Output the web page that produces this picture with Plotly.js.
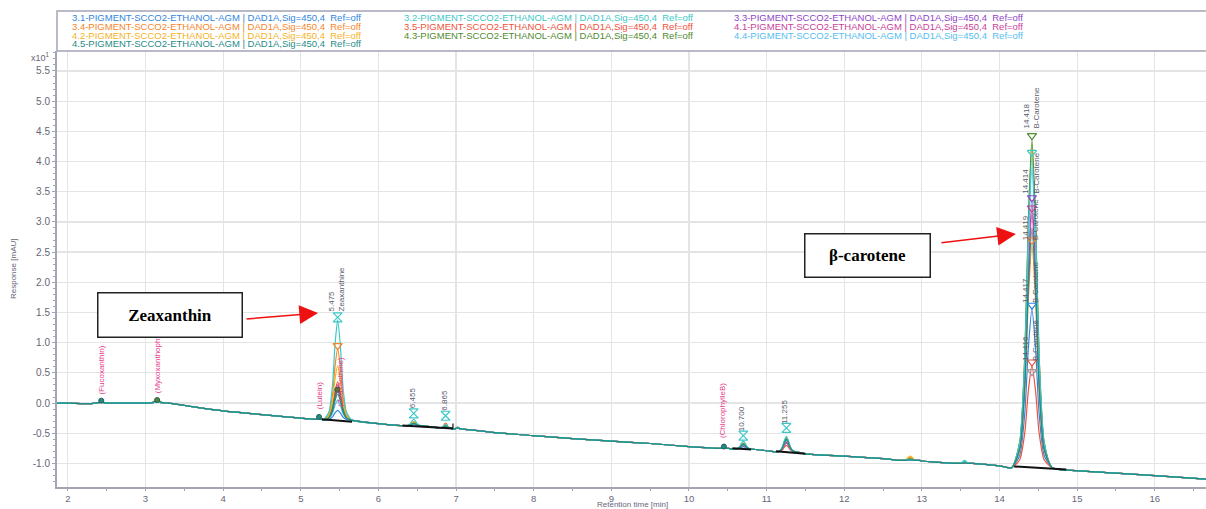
<!DOCTYPE html>
<html><head><meta charset="utf-8">
<script src="https://cdn.plot.ly/plotly-3.0.1.min.js"></script>
<style>html,body{margin:0;padding:0;background:#fff}</style>
</head><body><div id="chart" style="width:1206px;height:509px"></div>
<script>
// ---------- data ----------
const seriesNames = ['3.1','3.2','3.3','3.4','3.5','4.1','4.2','4.3','4.4','4.5'];
const seriesColors = ['#2e86de','#3cc8c8','#8e44c8','#f5862a','#f0503c','#c8409a','#f5b21e','#4e8a2e','#55bdf0','#1f8c86'];

// common drifting baseline (x10^1 mAU)
const baseTimes  = [1.86, 2.0, 2.3, 2.7, 3.0, 3.3, 3.6, 4.0, 4.5, 5.0, 5.5, 6.0, 6.5, 7.0, 7.5, 8.0, 8.5, 9.0, 9.5, 10.0, 10.5, 11.0, 11.5, 12.0, 12.5, 13.0, 13.5, 14.0, 14.5, 15.0, 15.5, 16.0, 16.66];
const baseValues = [0.0, 0.0, -0.01, 0.0, 0.0, -0.01, -0.06, -0.13, -0.19, -0.25, -0.29, -0.34, -0.38, -0.43, -0.49, -0.54, -0.59, -0.63, -0.67, -0.72, -0.75, -0.79, -0.84, -0.88, -0.92, -0.96, -1.00, -1.04, -1.08, -1.12, -1.16, -1.20, -1.26];

// peaks
const peakTimes      = [2.43, 3.15, 5.235, 5.475, 6.455, 6.865, 7.02, 10.45, 10.70, 11.255, 12.85, 13.55, 14.418];
const peakHalfWidths = [0.09, 0.15, 0.04, 0.19, 0.12, 0.08, 0.07, 0.06, 0.13, 0.14, 0.12, 0.10, 0.26];
const peakBaseValues = [0.0, 0.0, -0.27, -0.287, -0.376, -0.41, -0.43, -0.75, -0.765, -0.81, -0.95, -1.0, -1.07];
// peak profile read from the beta-carotene peak (offset as fraction of half base width, height fraction)
const profileOffsets   = [-1, -0.6, -0.35, -0.18, 0, 0.18, 0.35, 0.6, 1];
const profileFractions = [0, 0.08, 0.35, 0.75, 1, 0.75, 0.35, 0.08, 0];

// apex values per series (same order as peakTimes)
const apex_3_1 = [0.02, 0.02, -0.25, -0.12, -0.35, -0.39, -0.41, -0.74, -0.72, -0.66, -0.94, -0.99, 1.56];
const apex_3_2 = [0.02, 0.02, -0.25, 1.38, -0.27, -0.35, -0.40, -0.74, -0.63, -0.55, -0.94, -0.95, 4.09];
const apex_3_3 = [0.02, 0.02, -0.25, 0.20, -0.34, -0.38, -0.41, -0.74, -0.70, -0.62, -0.94, -0.99, 3.34];
const apex_3_4 = [0.02, 0.02, -0.24, 0.90, -0.31, -0.33, -0.40, -0.74, -0.67, -0.64, -0.89, -0.99, 2.64];
const apex_3_5 = [0.02, 0.02, -0.25, 0.35, -0.33, -0.34, -0.41, -0.74, -0.70, -0.70, -0.93, -0.99, 0.62];
const apex_4_1 = [0.02, 0.02, -0.25, 0.30, -0.34, -0.37, -0.41, -0.74, -0.69, -0.65, -0.94, -0.99, 3.17];
const apex_4_2 = [0.02, 0.02, -0.24, 0.62, -0.31, -0.35, -0.40, -0.74, -0.66, -0.57, -0.88, -0.99, 4.30];
const apex_4_3 = [0.02, 0.05, -0.24, 0.25, -0.33, -0.37, -0.40, -0.74, -0.68, -0.59, -0.92, -0.99, 4.37];
const apex_4_4 = [0.02, 0.02, -0.25, 0.05, -0.35, -0.38, -0.41, -0.74, -0.69, -0.61, -0.94, -0.97, 3.90];
const apex_4_5 = [0.04, 0.04, -0.23, 0.15, -0.34, -0.38, -0.41, -0.72, -0.68, -0.60, -0.94, -0.99, 2.90];
const apexBySeries = [apex_3_1, apex_3_2, apex_3_3, apex_3_4, apex_3_5, apex_4_1, apex_4_2, apex_4_3, apex_4_4, apex_4_5];

// integration baselines (black)
const intStartTimes  = [5.27, 6.31, 10.56, 11.12, 14.19];
const intEndTimes    = [5.66, 6.96, 10.80, 11.50, 14.86];
const intStartValues = [-0.27, -0.37, -0.75, -0.80, -1.05];
const intEndValues   = [-0.31, -0.42, -0.77, -0.84, -1.10];

// apex markers
const betaMarkerValues = [4.43, 4.15, 3.40, 3.23, 2.70, 1.62, 0.68, 0.52];
const betaMarkerColors = ['#4e8a2e','#3cc8c8','#8e44c8','#c8409a','#f5862a','#2e86de','#f0503c','#9a9aa8'];
const hourglassTimes  = [5.475, 6.455, 6.865, 10.70, 11.255];
const hourglassValues = [1.42, -0.17, -0.21, -0.54, -0.41];
const dotTimes  = [2.43, 3.15, 5.235, 5.47, 10.45];
const dotValues = [0.04, 0.05, -0.23, 0.22, -0.72];
const dotColors = ['#1f8c86','#4e8a2e','#1f8c86','#6a6a2e','#1f8c86'];

// labels
const legendLabel = '-PIGMENT-SCCO2-ETHANOL-AGM | DAD1A,Sig=450,4\u00a0\u00a0Ref=off';
const yTickVals   = [-1.0,-0.5,0.0,0.5,1.0,1.5,2.0,2.5,3.0,3.5,4.0,4.5,5.0,5.5];
const yTickLabels = ['-1.0','-0.5','0.0','0.5','1.0','1.5','2.0','2.5','3.0','3.5','4.0','4.5','5.0','5.5'];
const xTickVals   = [2,3,4,5,6,7,8,9,10,11,12,13,14,15,16];

// ---------- build ----------
function buildSeries(apex){
  const pts = [];
  baseTimes.forEach((t,i)=>{
    if(!peakTimes.some((p,k)=>Math.abs(t-p) < peakHalfWidths[k])) pts.push([t, baseValues[i]]);
  });
  peakTimes.forEach((p,k)=>{
    profileOffsets.forEach((o,j)=>{
      pts.push([p + o*peakHalfWidths[k], peakBaseValues[k] + profileFractions[j]*(apex[k]-peakBaseValues[k])]);
    });
  });
  pts.sort((a,b)=>a[0]-b[0]);
  return {x: pts.map(p=>p[0]), y: pts.map(p=>p[1])};
}

const drawOrder = [0,2,3,4,5,6,7,8,1,9];
const traces = [];
drawOrder.forEach(i=>{
  const s = buildSeries(apexBySeries[i]);
  traces.push({type:'scatter', mode:'lines', x:s.x, y:s.y, name:seriesNames[i],
    line:{color:seriesColors[i], width:1.2, shape:'spline', smoothing:0.6}, hoverinfo:'skip'});
});
intStartTimes.forEach((t,k)=>{
  traces.push({type:'scatter', mode:'lines', x:[t, intEndTimes[k]], y:[intStartValues[k], intEndValues[k]],
    line:{color:'#111', width:2}, hoverinfo:'skip'});
});
traces.push({type:'scatter', mode:'lines', x:[intEndTimes[1], intEndTimes[1]], y:[intEndValues[1], intEndValues[1]+0.08],
  line:{color:'#111', width:1.2}, hoverinfo:'skip'});
traces.push({type:'scatter', mode:'markers', x:betaMarkerValues.map(()=>peakTimes[12]), y:betaMarkerValues,
  marker:{symbol:'triangle-down-open', size:8, color:betaMarkerColors, line:{width:1.2}}, hoverinfo:'skip'});
traces.push({type:'scatter', mode:'markers', x:[peakTimes[3]], y:[0.95],
  marker:{symbol:'triangle-down-open', size:8, color:'#f5862a', line:{width:1.2}}, hoverinfo:'skip'});
traces.push({type:'scatter', mode:'markers', x:hourglassTimes, y:hourglassValues,
  marker:{symbol:'hourglass-open', size:9, color:'#3cc8c8', line:{width:1.2}}, hoverinfo:'skip'});
traces.push({type:'scatter', mode:'markers', x:dotTimes, y:dotValues,
  marker:{symbol:'circle', size:5, color:dotColors, line:{width:1, color:'#2a5a5a'}}, hoverinfo:'skip'});

const F = 'Liberation Sans, Arial, sans-serif';
const gray = '#5c5c6c', pink = '#e8408a';
const ann = [];
// legend text
const legendCols = [0.0113, 0.300, 0.5872];
const legendRows = [1.0764, 1.0557, 1.0362, 1.0161];
seriesNames.forEach((n,i)=>{
  ann.push({xref:'paper', yref:'paper', x:legendCols[i%3], y:legendRows[Math.floor(i/3)], xanchor:'left', yanchor:'middle',
    text:n+legendLabel, showarrow:false, font:{family:'Liberation Sans, Arial, sans-serif', size:9.5, color:seriesColors[i]}});
});
function rot(x,y,text,color,size){
  ann.push({x:x, y:y, text:text, textangle:-90, xanchor:'center', yanchor:'bottom', align:'left', showarrow:false,
    font:{family:F, size:size||8, color:color}, borderpad:0});
}
rot(2.43, 0.12, '(Fucoxanthin)', pink);
rot(3.15, 0.14, '(Myxoxanthophyll)', pink);
rot(5.24, -0.12, '(Lutein)', pink);
rot(5.51, -0.07, '(Zeaxanthine)', pink);
rot(10.43, -0.60, '(ChlorophylleB)', pink);
rot(5.46, 1.50, '5.475<br>Zeaxanthine', gray);
rot(6.44, -0.10, '6.455', gray);
rot(6.84, -0.14, '6.865', gray);
rot(10.68, -0.48, '10.700', gray);
rot(11.24, -0.36, '11.255', gray);
rot(14.40, 4.53, '14.418<br>B-Carotene', gray);
rot(14.40, 3.45, '14.414<br>B-Carotene', gray);
rot(14.40, 2.68, '14.419<br>B-Carotene', gray);
rot(14.40, 1.64, '14.417<br>B-Carotene', gray);
rot(14.40, 0.68, '14.416<br>B-Carotene', gray);
// boxes
ann.push({xref:'paper', yref:'paper', x:0.0984, y:0.3945, xanchor:'center', yanchor:'middle', text:'<b>Zeaxanthin</b>',
  showarrow:false, font:{family:'Liberation Serif, Times New Roman, serif', size:17, color:'#000'},
  bgcolor:'#fff', bordercolor:'#222', borderwidth:1.5, borderpad:0, width:143, height:43});
ann.push({xref:'paper', yref:'paper', x:0.7058, y:0.532, xanchor:'center', yanchor:'middle', text:'<b>β-carotene</b>',
  showarrow:false, font:{family:'Liberation Serif, Times New Roman, serif', size:17, color:'#000'},
  bgcolor:'#fff', bordercolor:'#222', borderwidth:1.5, borderpad:0, width:124, height:42});
// arrows
ann.push({xref:'paper', yref:'paper', x:0.2272, y:0.399, ax:-73, ay:6, text:' ', showarrow:true,
  arrowhead:2, arrowsize:2.5, arrowwidth:1.5, arrowcolor:'#ee1111', standoff:0, font:{size:1}});
ann.push({xref:'paper', yref:'paper', x:0.8346, y:0.5803, ax:-76, ay:9, text:' ', showarrow:true,
  arrowhead:2, arrowsize:2.5, arrowwidth:1.5, arrowcolor:'#ee1111', standoff:0, font:{size:1}});
// axis texts
ann.push({xref:'paper', yref:'paper', x:-0.0044, y:0.986, xanchor:'right', yanchor:'middle', text:'x10<sup>1</sup>',
  showarrow:false, font:{family:'Liberation Sans, Arial', size:9, color:'#666677'}});
ann.push({xref:'paper', yref:'paper', x:(632-57)/1149, y:-0.039, xanchor:'center', yanchor:'middle', text:'Retention time [min]',
  showarrow:false, font:{family:'Liberation Sans, Arial', size:8, color:'#666677'}});
ann.push({xref:'paper', yref:'paper', x:(13-57)/1149, y:0.5, xanchor:'center', yanchor:'middle', text:'Response [mAU]', textangle:-90,
  showarrow:false, font:{family:'Liberation Sans, Arial', size:8, color:'#666677'}});

const axisCol = '#a4a4b4';
const layout = {
  width:1206, height:509,
  margin:{l:57, r:0, t:51, b:22},
  paper_bgcolor:'#fff', plot_bgcolor:'#fff',
  showlegend:false,
  font:{family:'Liberation Sans, Arial, sans-serif'},
  xaxis:{range:[1.86,16.66], tickvals:xTickVals, showgrid:true, gridcolor:'#e4e4e4', gridwidth:1.2, zeroline:false,
    showline:true, linecolor:axisCol, linewidth:2, ticks:'outside', ticklen:2, tickcolor:axisCol,
    tickfont:{size:9.5, color:'#666677'}, automargin:false,
    minor:{dtick:0.5, tick0:0, ticks:'outside', ticklen:2, tickcolor:axisCol, showgrid:false}},
  yaxis:{range:[-1.39,5.83], tickvals:yTickVals, ticktext:yTickLabels, showgrid:true, gridcolor:'#e4e4e4', gridwidth:1.2,
    zeroline:false, showline:true, linecolor:axisCol, linewidth:2, ticks:'outside', ticklen:3, tickcolor:axisCol,
    tickfont:{size:10, color:'#666677'}, automargin:false,
    minor:{dtick:0.1, tick0:0, ticks:'outside', ticklen:2, tickcolor:axisCol, showgrid:false}},
  shapes:[{type:'rect', xref:'paper', yref:'paper', x0:0, x1:1.01, y0:1, y1:1.0917, line:{color:axisCol, width:1.5}, fillcolor:'rgba(0,0,0,0)'}],
  annotations:ann
};
Plotly.newPlot('chart', traces, layout, {staticPlot:true, displayModeBar:false});
</script>
</body></html>
